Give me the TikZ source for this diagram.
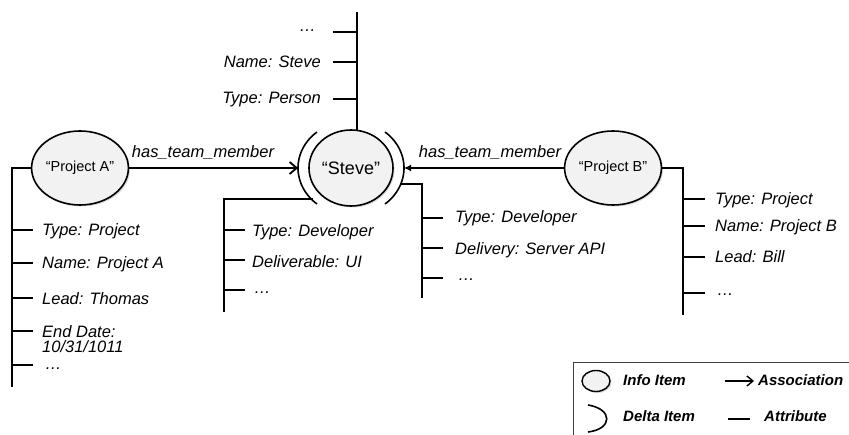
\documentclass[tikz,border=0pt]{standalone}
\usepackage{fontspec}
\setmainfont{Liberation Sans}
\usetikzlibrary{arrows.meta,shapes.geometric,shadows}
\begin{document}
\begin{tikzpicture}[x=1pt,y=-1pt,
  item/.style={ellipse, draw=black, line width=1.6pt, fill=gray!10, inner sep=0pt,
    drop shadow={opacity=0.3, shadow xshift=1.5pt, shadow yshift=-1.5pt, fill=gray}},
  attr/.style={line width=1.9pt},
  lbl/.style={font=\fontsize{16.5}{18}\selectfont\itshape, anchor=base west, inner sep=0pt},
  lblr/.style={lbl, anchor=base east},
  assocA/.style={line width=2pt, -{Straight Barb[length=7pt,width=12pt,line width=1.8pt]}},
  assocB/.style={line width=2pt, -{Latex[length=7pt,width=7pt]}},
  leg/.style={font=\fontsize{15}{17}\selectfont\bfseries\itshape, anchor=base west, inner sep=0pt},
  nlbl/.style={font=\fontsize{14.5}{16}\selectfont}
]
\useasboundingbox (0,0) rectangle (849,435);

% items
\node[item, nlbl, minimum width=76pt, minimum height=74pt] (pa) at (80,168) {“Project A”};
\node[item, font=\fontsize{18}{20}\selectfont, minimum width=84pt, minimum height=76pt] (steve) at (351,168) {“Steve”};
\node[item, nlbl, minimum width=76pt, minimum height=74pt] (pb) at (613,168) {“Project B”};

% delta arcs round Steve
\draw[line width=1.6pt] ([shift={(130:53pt and 47pt)}]steve.center) arc[start angle=130, end angle=230, x radius=53pt, y radius=47pt];
\draw[line width=1.6pt] ([shift={(-50:53pt and 47pt)}]steve.center) arc[start angle=-50, end angle=50, x radius=53pt, y radius=47pt];
\coordinate (stevel) at ([xshift=-53pt]steve.center);
\coordinate (stever) at ([xshift=53pt]steve.center);

% associations
\draw[assocA] (pa) -- (stevel);
\draw[assocB] (pb) -- (stever);
\node[lbl, anchor=base] (l1) at (203,158) {has\_team\_member};
\node[lbl, anchor=base] (l2) at (490,158) {has\_team\_member};

% Project A attributes
\coordinate (pac) at (12,168);
\coordinate (pabot) at (12,387);
\draw[attr] (pa.west) -- (pac) -- (pabot);
\foreach \y in {230,263,298,331,365} \draw[attr] (12,\y) -- (33,\y);
\node[lbl] (pa1) at (42,236) {Type: Project};
\node[lbl] (pa2) at (42,269) {Name: Project A};
\node[lbl] (pa3) at (42,305) {Lead: Thomas};
\node[lbl] (pa4) at (42,338) {End Date:};
\node[lbl] (pa5) at (42,353) {10/31/1011};
\node[lbl] (pa6) at (45,370) {…};

% Steve top attributes
\coordinate (stop) at (357,12);
\draw[attr] (stop) -- (357,130);
\foreach \y in {32,62,99} \draw[attr] (357,\y) -- (333,\y);
\node[lblr] (st1) at (316,32) {…};
\node[lblr] (st2) at (321,68) {Name: Steve};
\node[lblr] (st3) at (321,104) {Type: Person};

% Steve bottom-left attributes
\coordinate (sbl0) at (313,199);
\coordinate (sbl1) at (224,199);
\coordinate (sbl2) at (224,312);
\draw[attr] (sbl0) -- (sbl1) -- (sbl2);
\foreach \y in {230,260,290} \draw[attr] (224,\y) -- (245,\y);
\node[lbl] (sb1) at (252,237) {Type: Developer};
\node[lbl] (sb2) at (252,268) {Deliverable: UI};
\node[lbl] (sb3) at (254,294) {…};

% Steve bottom-right attributes
\coordinate (sbr0) at (400,184);
\coordinate (sbr1) at (422,184);
\coordinate (sbr2) at (422,298);
\draw[attr] (sbr0) -- (sbr1) -- (sbr2);
\foreach \y in {218,248,278} \draw[attr] (422,\y) -- (443,\y);
\node[lbl] (sr1) at (455,223) {Type: Developer};
\node[lbl] (sr2) at (455,255) {Delivery: Server API};
\node[lbl] (sr3) at (458,281) {…};

% Project B attributes
\coordinate (pbc) at (683,168);
\coordinate (pbbot) at (683,315);
\draw[attr] (pb.east) -- (pbc) -- (pbbot);
\foreach \y in {199,226,257,293} \draw[attr] (683,\y) -- (705,\y);
\node[lbl] (pb1) at (715,205) {Type: Project};
\node[lbl] (pb2) at (715,232) {Name: Project B};
\node[lbl] (pb3) at (715,263) {Lead: Bill};
\node[lbl] (pb4) at (717,296) {…};

% legend
\draw[line width=0.8pt, draw=black!75] (573,435) -- (573,362) -- (849,362);
\node[item, line width=1.4pt, minimum width=28pt, minimum height=21pt] (linfo) at (596,381) {};
\node[leg] (tinfo) at (623,386) {Info Item};
\coordinate (la0) at (725,381);
\coordinate (la1) at (754,381);
\draw[line width=1.6pt, -{Straight Barb[length=6pt,width=10pt,line width=1.4pt]}] (la0) -- (la1);
\node[leg] (tassoc) at (758,386) {Association};
\draw[line width=1.6pt] (588,405) .. controls (613,409) and (613,429) .. (588,432);
\node[leg] (tdelta) at (623,422) {Delta Item};
\coordinate (lt0) at (728,419);
\coordinate (lt1) at (750,419);
\draw[attr] (lt0) -- (lt1);
\node[leg] (tattr) at (764,422) {Attribute};
\end{tikzpicture}
\end{document}
